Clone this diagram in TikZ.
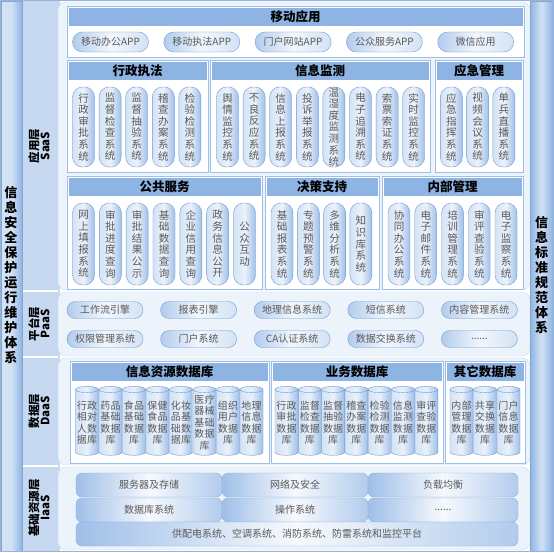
\documentclass[tikz,border=0pt]{standalone}
\usepackage{fontspec}
\setmainfont{Noto Sans CJK SC}
\XeTeXlinebreaklocale "zh"
\XeTeXlinebreakskip=0pt plus 1pt
\usetikzlibrary{shapes.geometric}

\definecolor{hdrblue}{HTML}{8EB4E3}
\definecolor{lineblue}{HTML}{9CC0E8}
\definecolor{edgeblue}{HTML}{6D9DD6}
\definecolor{darkblue}{HTML}{4F81BD}
\definecolor{panelbg}{HTML}{EDF3FB}
\definecolor{tagbg}{HTML}{C6D9F1}
\definecolor{pillL}{HTML}{D3E2F5}
\definecolor{pillR}{HTML}{9FBFE8}
\definecolor{txtgray}{HTML}{595959}

\newcommand\moredots{......}
% group box with title band
\newcommand\grpbox[6]{%
  \draw[box] (#2,#3) rectangle (#4,#5);
  \fill[hdrblue] (#2+1.5,#3+1.5) rectangle (#4-1.5,#3+20);
  \node[hdrtxt] (#1) at ({(#2+#4)/2},#3+11) {#6};}

\begin{document}
\begin{tikzpicture}[x=1pt,y=-1pt,
    box/.style={draw=lineblue,fill=white},
    hdrtxt/.style={font=\bfseries\fontsize{12.5}{14}\selectfont,inner sep=0pt},
    vpill/.style={draw=edgeblue,left color=pillL,right color=pillR,
      middle color=white!55!pillL,rounded corners=10pt,inner sep=0pt,
      minimum width=22pt,text width=11pt,align=center,
      font=\fontsize{10.5}{11.6}\selectfont,text=txtgray},
    hpill/.style={draw=edgeblue,left color=pillR!80,right color=pillL,
      middle color=white!70!pillL,rounded corners=8.5pt,inner sep=0pt,
      minimum width=76pt,minimum height=17pt,
      font=\fontsize{10}{12}\selectfont,text=txtgray},
    dbcyl/.style={cylinder,shape border rotate=90,aspect=0.3,draw=edgeblue,
      left color=pillL,right color=pillR,middle color=white!50!pillL,
      minimum width=23pt,minimum height=69pt,inner sep=0pt,
      text width=21pt,align=center,font=\fontsize{10}{11.5}\selectfont,
      text=txtgray},
    basebox/.style={draw=edgeblue!80,left color=pillR,right color=pillR!80,
      middle color=white!80!pillL,rounded corners=6pt,inner sep=0pt,
      minimum height=24pt,font=\fontsize{10}{12}\selectfont,text=txtgray},
    sidetxt/.style={text width=14pt,align=center,inner sep=0pt,
      font=\bfseries\fontsize{13}{15}\selectfont},
    layertag/.style={rotate=90,align=center,inner sep=0pt,
      font=\bfseries\fontsize{11.5}{11}\selectfont}
  ]
  \useasboundingbox (0,0) rectangle (554,552);

  % frame, side bars, layer panels
  \fill[tagbg] (22,1) rectangle (60,551);
  \foreach \ya/\yb in {2/290,292/356,358/465,467/550}
    \draw[lineblue!60,fill=panelbg,rounded corners=8pt] (58,\ya) rectangle (530,\yb);
  \foreach \yy in {291,357,466}
    \draw[white,line width=1.2pt] (22,\yy) -- (58,\yy);
  \shade[left color=pillL,right color=hdrblue,middle color=tagbg!80]
    (1,1) rectangle (22,551);
  \shade[left color=hdrblue,right color=hdrblue,middle color=tagbg!80]
    (530,1) rectangle (553,551);
  \draw[darkblue!70] (1,1) rectangle (22,551);
  \draw[darkblue!70] (530,1) rectangle (553,551);
  \draw[darkblue!60] (0.5,0.5) rectangle (553.5,551.5);

  \node[sidetxt] (secsys) at (11,275) {信息安全保护运行维护体系};
  \node[sidetxt] (stdsys) at (541.5,275) {信息标准规范体系};

  \node[layertag] (saas) at (39,146) {应用层\\SaaS};
  \node[layertag] (paas) at (39,324) {平台层\\PaaS};
  \node[layertag] (daas) at (39,411) {数据层\\DaaS};
  \node[layertag] (iaas) at (39,508) {基础资源层\\IaaS};

  % application layer
  \grpbox{mobile}{67}{6}{524}{57}{移动应用}
  \foreach \t [count=\i] in {移动办公APP,移动执法APP,门户网站APP,公众服务APP,微信应用}
    \node[hpill,minimum height=20pt,rounded corners=10pt] (app\i) at (19.2+91.3*\i,42) {\t};

  \grpbox{law}{67}{60}{208}{172}{行政执法}
  \foreach \t [count=\i] in {行政审批系统,监督检查系统,监督抽验系统,稽查办案系统,检验检测系统}
    \node[vpill,minimum height=80pt] (law\i) at (56.9+26.6*\i,127) {\t};

  \grpbox{mon}{210}{60}{430}{172}{信息监测}
  \foreach \t [count=\i] in {舆情监控系统,不良反应系统,信息上报系统,投诉举报系统,
      温湿度监测系统,电子追溯系统,索票索证系统,实时监控系统}
    \node[vpill,minimum height=80pt] (mon\i) at (200.9+26.6*\i,127) {\t};

  \grpbox{emg}{435}{60}{523}{172}{应急管理}
  \foreach \t [count=\i] in {应急指挥系统,视频会议系统,单兵直播系统}
    \node[vpill,minimum height=80pt] (emg\i) at (425+26.3*\i,127) {\t};

  \grpbox{pub}{67}{176}{262}{289}{公共服务}
  \foreach \t [count=\i] in {网上填报系统,审批进度查询,审批结果公示,基础数据查询,
      企业信用查询,政务信息公开,公众互动}
    \node[vpill,minimum height=82pt] (pub\i) at (56.7+26.83*\i,244) {\t};

  \grpbox{dec}{265}{176}{379}{289}{决策支持}
  \foreach \t [count=\i] in {基础报表系统,专题预警系统,多维分析系统,知识库系统}
    \node[vpill,minimum height=82pt] (dec\i) at (255.7+26.3*\i,244) {\t};

  \grpbox{inn}{382}{176}{523}{289}{内部管理}
  \foreach \t [count=\i] in {协同办公系统,电子邮件系统,培训管理系统,审评查验系统,电子监察系统}
    \node[vpill,minimum height=82pt] (inn\i) at (372.25+26.75*\i,244) {\t};

  % platform layer
  \foreach \t [count=\i] in {工作流引擎,报表引擎,地理信息系统,短信系统,内容管理系统}
    \node[hpill] (pfa\i) at (11.4+93.6*\i,310) {\t};
  \foreach \t [count=\i] in {权限管理系统,门户系统,CA认证系统,数据交换系统,\moredots}
    \node[hpill] (pfb\i) at (11.4+93.6*\i,339) {\t};

  % data layer
  \grpbox{infodb}{70}{361}{269}{463}{信息资源数据库}
  \foreach \t [count=\i] in {行政相对人数据库,药品基础数据库,食品基础数据库,保健食品数据库,
      化妆品基础数据库,医疗器械基础数据库,组织用户数据库,地理信息数据库}
    \node[dbcyl] (idb\i) at (63.5+23.5*\i,422.5) {\t};

  \grpbox{bizdb}{271}{361}{443}{463}{业务数据库}
  \foreach \t [count=\i] in {行政审批数据库,监督检查数据库,监督抽验数据库,稽查办案数据库,
      检验检测数据库,信息监测数据库,审评查验数据库}
    \node[dbcyl] (bdb\i) at (263.2+23.3*\i,422.5) {\t};

  \grpbox{otherdb}{445}{361}{525}{463}{其它数据库}
  \foreach \t [count=\i] in {内部管理数据库,共享交换数据库,门户信息数据库}
    \node[dbcyl] (odb\i) at (438+23.5*\i,422.5) {\t};

  % infrastructure layer
  \node[basebox,minimum width=146pt] (srv) at (149,485) {服务器及存储};
  \node[basebox,minimum width=146pt] (net) at (295,485) {网络及安全};
  \node[basebox,minimum width=150pt] (lb) at (443,485) {负载均衡};
  \node[basebox,minimum width=146pt] (dbs) at (149,510) {数据库系统};
  \node[basebox,minimum width=146pt] (os) at (295,510) {操作系统};
  \node[basebox,minimum width=150pt] (etc) at (443,510) {\moredots};
  \node[basebox,minimum width=442pt] (power) at (297,534)
    {供配电系统、空调系统、消防系统、防雷系统和监控平台};
\end{tikzpicture}
\end{document}
